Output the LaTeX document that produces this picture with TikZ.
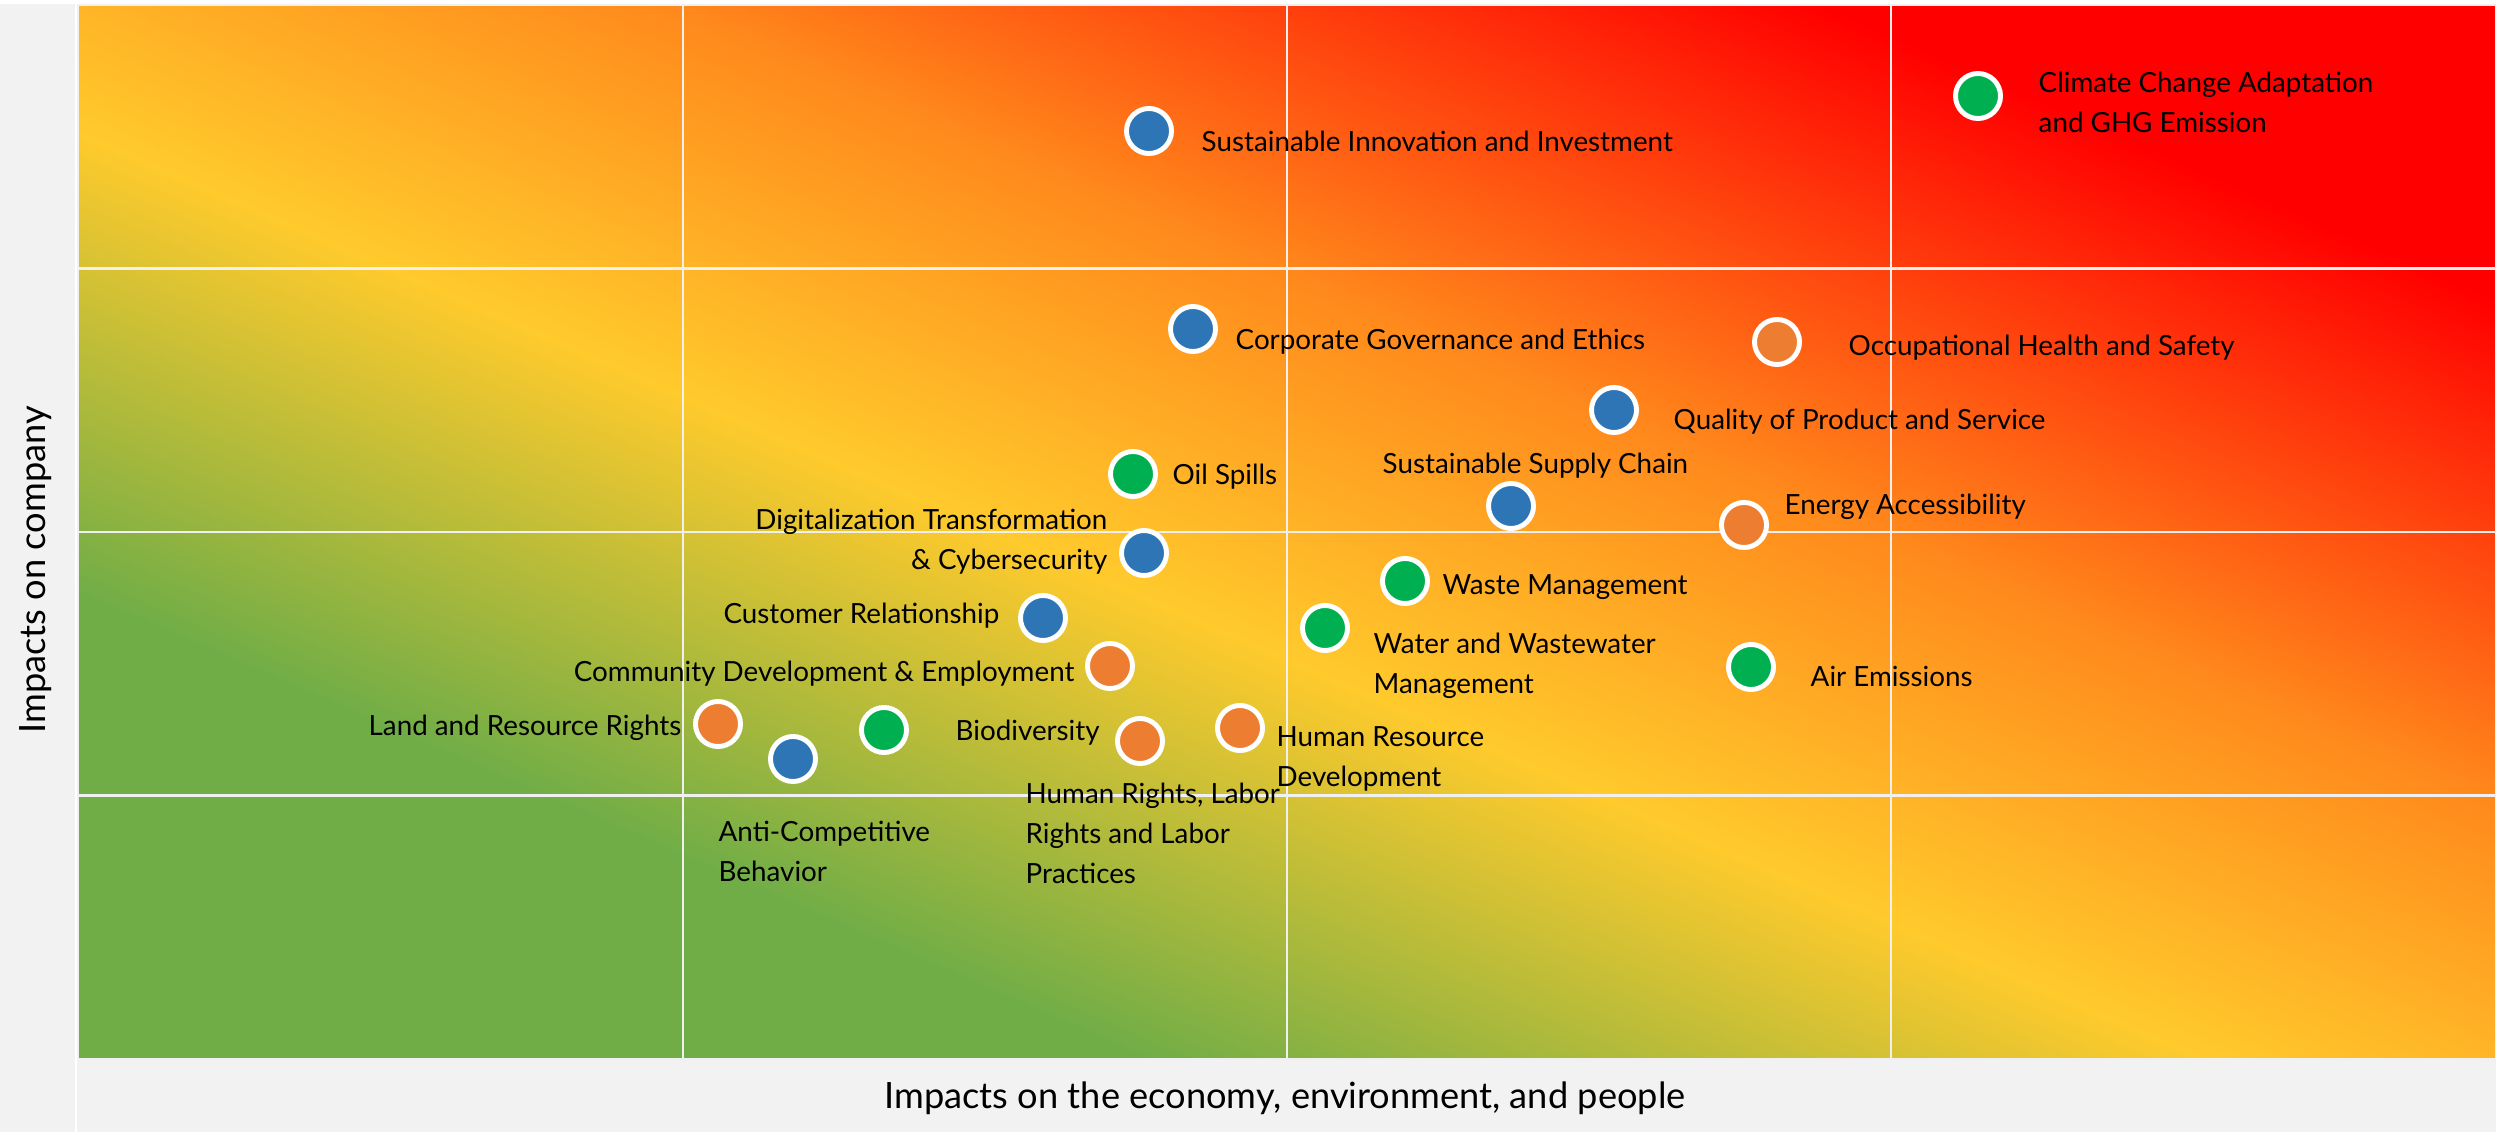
\documentclass[tikz,border=0pt]{standalone}
\usepackage{fontspec}
\setmainfont{Lato}
\usepackage{tikz}
\usetikzlibrary{calc}
\definecolor{bggray}{HTML}{F2F2F2}
\definecolor{envgreen}{HTML}{00B050}
\definecolor{socorange}{HTML}{ED7D31}
\definecolor{govblue}{HTML}{2E75B6}
\definecolor{lowgreen}{HTML}{70AD47}
\definecolor{midyellow}{HTML}{FFCA2C}
\definecolor{highorange}{HTML}{FF8A1C}
\definecolor{topred}{HTML}{FF0000}
% 25bp = low/low corner, 75bp = high/high corner
\pgfdeclareverticalshading{heatmap}{100bp}{color(0bp)=(lowgreen); color(36bp)=(lowgreen); color(47bp)=(midyellow); color(56bp)=(highorange); color(68bp)=(topred); color(100bp)=(topred)}

\begin{document}
\begin{tikzpicture}[x=0.01cm,y=0.01cm,
  bubble/.style={circle,draw=white,line width=1.4pt,minimum size=0.45cm,inner sep=0pt},
  lbl/.style={font=\fontsize{7.9}{11.4}\selectfont,inner sep=0pt,align=left,anchor=west},
  lblr/.style={lbl,align=right,anchor=east},
  axlbl/.style={font=\fontsize{10.3}{12}\selectfont,inner sep=0pt},
  gridline/.style={draw=white!94!black,line width=0.7pt}]
  % Background
  \fill[bggray] (0,0) rectangle (2496,1132);
  \useasboundingbox (0,0) rectangle (2496,1132);
  \fill[white] (0,1128) rectangle (2496,1132);
  \draw[white,line width=0.8pt] (76,0) -- (76,1132);
  % Heat map: bands run parallel to the falling diagonal
  \begin{scope}
    \clip (78,73) rectangle (2496,1127);
    \begin{scope}[transform canvas={cm={2.418,-1.054,2.418,1.054,(78,73)}}]
      \shade[shading=heatmap] (-500,0) rectangle (500,1000);
    \end{scope}
  \end{scope}
  \foreach \gx in {683,1287,1891} \draw[gridline] (\gx,73) -- (\gx,1127);
  \foreach \gy in {336.5,600,863.5} \draw[gridline] (78,\gy) -- (2496,\gy);
  \draw[gridline] (78,73) rectangle (2496,1127);
  % Axis titles
  \node[axlbl] (xtitle) at (1285,34) {Impacts on the economy, environment, and people};
  \node[axlbl,rotate=90] (ytitle) at (36,562) {Impacts on company};
  % Topics (blue = governance, green = environment, orange = social)
  \node[bubble,fill=govblue] (sii) at (1149,1001) {};
  \node[lbl] (sii-l) at (1201,991) {Sustainable Innovation and Investment};
  \node[bubble,fill=envgreen] (cca) at (1978,1036) {};
  \node[lbl] (cca-l) at (2038,1030) {Climate Change Adaptation\\and GHG Emission};
  \node[bubble,fill=govblue] (cge) at (1193,803) {};
  \node[lbl] (cge-l) at (1235,790) {Corporate Governance and Ethics};
  \node[bubble,fill=socorange] (ohs) at (1777,790) {};
  \node[lbl] (ohs-l) at (1848,784) {Occupational Health and Safety};
  \node[bubble,fill=govblue] (qps) at (1614,722) {};
  \node[lbl] (qps-l) at (1673,710) {Quality of Product and Service};
  \node[bubble,fill=envgreen] (oil) at (1133,658) {};
  \node[lbl] (oil-l) at (1172,655) {Oil Spills};
  \node[bubble,fill=govblue] (ssc) at (1511,626) {};
  \node[lbl] (ssc-l) at (1382,666) {Sustainable Supply Chain};
  \node[bubble,fill=socorange] (ea) at (1744,607) {};
  \node[lbl] (ea-l) at (1784,625) {Energy Accessibility};
  \node[bubble,fill=govblue] (dtc) at (1144,579) {};
  \node[lblr] (dtc-l) at (1108,590) {Digitalization Transformation\\\& Cybersecurity};
  \node[bubble,fill=envgreen] (wm) at (1405,551) {};
  \node[lbl] (wm-l) at (1442,545) {Waste Management};
  \node[bubble,fill=govblue] (cr) at (1043,514) {};
  \node[lblr] (cr-l) at (1000,516) {Customer Relationship};
  \node[bubble,fill=envgreen] (wwm) at (1325,504) {};
  \node[lbl] (wwm-l) at (1373,466) {Water and Wastewater\\Management};
  \node[bubble,fill=socorange] (cde) at (1110,466) {};
  \node[lblr] (cde-l) at (1075,458) {Community Development \& Employment};
  \node[bubble,fill=envgreen] (air) at (1751,465) {};
  \node[lbl] (air-l) at (1810,456) {Air Emissions};
  \node[bubble,fill=socorange] (lrr) at (718,408) {};
  \node[lblr] (lrr-l) at (682,404) {Land and Resource Rights};
  \node[bubble,fill=envgreen] (bio) at (884,402) {};
  \node[lbl] (bio-l) at (955,399) {Biodiversity};
  \node[bubble,fill=socorange] (hrl) at (1140,391) {};
  \node[lbl] (hrl-l) at (1025,299) {Human Rights, Labor\\Rights and Labor\\Practices};
  \node[bubble,fill=socorange] (hrd) at (1240,404) {};
  \node[lbl] (hrd-l) at (1276,373) {Human Resource\\Development};
  \node[bubble,fill=govblue] (acb) at (793,373) {};
  \node[lbl] (acb-l) at (718,281) {Anti-Competitive\\Behavior};
\end{tikzpicture}
\end{document}
